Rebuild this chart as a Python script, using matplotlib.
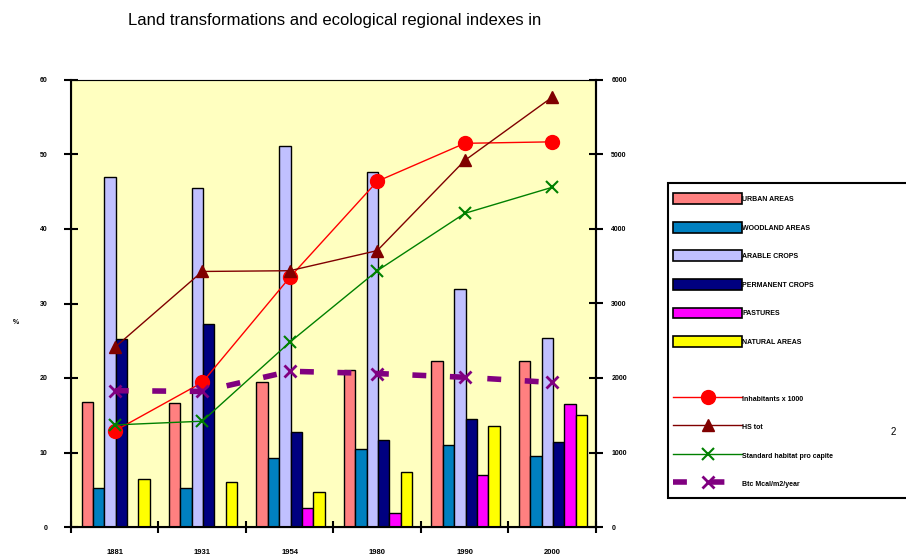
import numpy as np
import matplotlib.pyplot as plt
from matplotlib.patches import Patch, Rectangle
from matplotlib.lines import Line2D

plt.rcParams['font.family'] = ['Liberation Sans', 'DejaVu Sans']
plt.rcParams['lines.scale_dashes'] = False

years = ["1881", "1931", "1954", "1980", "1990", "2000"]

# land use shares (%), left axis
urban = [16.8, 16.6, 19.5, 21.1, 22.3, 22.3]
woods = [5.2, 5.2, 9.2, 10.5, 11.0, 9.5]
arable = [47.0, 45.5, 51.1, 47.7, 32.0, 25.4]
perm_crops = [25.2, 27.3, 12.7, 11.7, 14.5, 11.4]
pastures = [0.0, 0.0, 2.6, 1.9, 7.0, 16.5]
natural = [6.5, 6.1, 4.7, 7.4, 13.5, 15.0]

bar_series = [urban, woods, arable, perm_crops, pastures, natural]
bar_labels = ["URBAN AREAS", "WOODLAND AREAS", "ARABLE CROPS",
              "PERMANENT CROPS", "PASTURES", "NATURAL AREAS"]
bar_colors = ["#FF8080", "#0080C0", "#C0C0FF", "#000080", "#FF00FF", "#FFFF00"]

# regional indexes, right axis
inhabitants = [1290, 1940, 3350, 4640, 5150, 5170]
hs_tot = [2410, 3430, 3440, 3710, 4920, 5770]
hs_capita = [1370, 1420, 2480, 3440, 4210, 4560]
btc = [1830, 1820, 2090, 2060, 2010, 1940]

fig = plt.figure(figsize=(9.06, 5.59), dpi=100)
ax = fig.add_axes([71 / 906, 1 - 527 / 559, 525 / 906, 447 / 559])
ax.set_facecolor("#FFFFC0")

x = np.arange(len(years))
w = 0.13
for k, (vals, col) in enumerate(zip(bar_series, bar_colors)):
    ax.bar(x - 0.5 + 0.12 + w * (k + 0.5), vals, width=w, color=col,
           edgecolor="black", linewidth=1.0, zorder=2)

ax.set_xlim(-0.5, 5.5)
ax.set_ylim(0, 60)
ax.set_yticks(np.arange(0, 61, 10))
ax.set_xticks(np.arange(-0.5, 6, 1))
ax.set_xticklabels([])
ax.set_xticks(x, minor=True)
ax.set_xticklabels(years, minor=True, fontsize=5.5, fontweight="bold")
ax.tick_params(axis="x", which="major", direction="inout", length=9, width=1.5)
ax.tick_params(axis="x", which="minor", length=0, pad=16)
ax.tick_params(axis="y", direction="inout", length=10, width=1.5, pad=12,
               labelsize=5)
for t in ax.get_yticklabels():
    t.set_fontweight("bold")

for side in ["left", "bottom"]:
    ax.spines[side].set_linewidth(1.5)
ax.spines["top"].set_color("#A0A0A0")
ax.spines["right"].set_linewidth(1.5)

ax2 = ax.twinx()
ax2.set_ylim(0, 6000)
ax2.set_yticks(np.arange(0, 6001, 1000))
ax2.tick_params(axis="y", direction="inout", length=10, width=1.5, pad=6,
                labelsize=5)
for t in ax2.get_yticklabels():
    t.set_fontweight("bold")
ax2.spines["right"].set_linewidth(1.5)

l1, = ax2.plot(x, inhabitants, color="#FF0000", lw=1.0, marker="o",
               markersize=10, zorder=3)
l2, = ax2.plot(x, hs_tot, color="#800000", lw=1.0, marker="^",
               markersize=9, zorder=3)
l3, = ax2.plot(x, hs_capita, color="#008000", lw=1.0, marker="x",
               markersize=8, markeredgewidth=1.5, zorder=3)
l4, = ax2.plot(x, btc, color="#800080", lw=4.0, marker="x", markersize=9,
               markeredgewidth=2, dashes=(10, 17), zorder=3)

fig.text(335 / 906, 1 - 20 / 559,
         "Land transformations and ecological regional indexes in",
         ha="center", va="center", fontsize=12)
fig.text(16 / 906, 1 - 322 / 559, "%", ha="center", va="center",
         fontsize=5, fontweight="bold")
fig.text(893 / 906, 1 - 432 / 559, "2", ha="center", va="center", fontsize=7)

# legend frame runs past the right edge of the figure
fig.patches.append(Rectangle((668 / 906, 1 - 498 / 559), 260 / 906,
                             315 / 559, transform=fig.transFigure,
                             facecolor="white", edgecolor="black",
                             linewidth=1.5, zorder=0))

handles = [Patch(facecolor=c, edgecolor="black", linewidth=1.2)
           for c in bar_colors]
handles.append(Line2D([], [], color="none"))
handles += [l1, l2, l3, l4]
labels = bar_labels + [""] + ["Inhabitants x 1000", "HS tot",
                              "Standard habitat pro capite",
                              "Btc Mcal/m2/year"]
leg = fig.legend(handles, labels, loc="upper left",
                 bbox_to_anchor=(670 / 906, 1 - 190 / 559), frameon=False,
                 fontsize=5, handlelength=9.8, handleheight=2.0,
                 labelspacing=2.56, handletextpad=0.1, borderpad=0)
for t in leg.get_texts():
    t.set_fontweight("bold")

fig.savefig("out.png", dpi=100)
